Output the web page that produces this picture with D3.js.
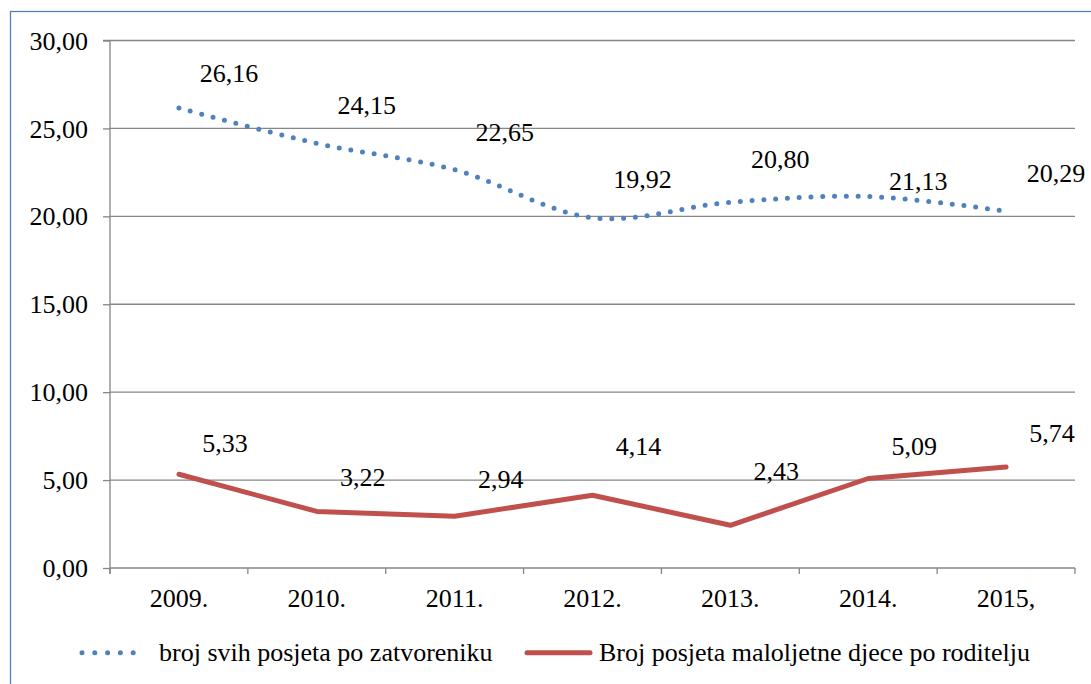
<!DOCTYPE html>
<html>
<head>
<meta charset="utf-8">
<script src="https://cdn.jsdelivr.net/npm/d3@7"></script>
<style>
  html, body { margin: 0; padding: 0; background: #fff; }
  svg { display: block; }
</style>
</head>
<body>
<svg id="chart" width="1091" height="684"></svg>
<script>
// ---- data ----
const years = ["2009.", "2010.", "2011.", "2012.", "2013.", "2014.", "2015,"];
const visitsPerPrisoner = [26.16, 24.15, 22.65, 19.92, 20.80, 21.13, 20.29];
const childVisitsPerParent = [5.33, 3.22, 2.94, 4.14, 2.43, 5.09, 5.74];
const yTicks = [0, 5, 10, 15, 20, 25, 30];
const seriesNames = ["broj svih posjeta po zatvoreniku", "Broj posjeta maloljetne djece po roditelju"];

// ---- layout (label nudges are layout only) ----
const labelNudgeBlue = [3, 0, 0, -1, -5, 23, 0];
const labelNudgeRed = [6, 3, 0, -12, -17, 4, 3];

const FONT = "'Liberation Serif'";
const svg = d3.select("#chart");
const plotLeft = 110, plotRight = 1075, plotTop = 40.5, plotBottom = 568;
const fontSize = 26;
const gridColor = "#868686";
const blue = "#4f81bd", red = "#c0504d";

// outer frame
svg.append("rect").attr("x", 10.5).attr("y", 11.5).attr("width", 1100).attr("height", 700)
  .attr("fill", "none").attr("stroke", "#4f81bd").attr("stroke-width", 1.3);

const x = d3.scaleBand().domain(years).range([plotLeft, plotRight]).paddingInner(0).paddingOuter(0);
const y = d3.scaleLinear().domain([0, 30]).range([plotBottom, plotTop]);
const cx = d => x(d) + x.bandwidth() / 2;

// gridlines
svg.append("g").selectAll("line").data(yTicks.filter(d => d > 0)).join("line")
  .attr("x1", plotLeft).attr("x2", plotRight)
  .attr("y1", d => y(d)).attr("y2", d => y(d))
  .attr("stroke", gridColor).attr("stroke-width", 1.3);

// y axis
const yAxis = d3.axisLeft(y).tickValues(yTicks).tickSize(7).tickPadding(15)
  .tickFormat(d => d3.format(".2f")(d).replace(".", ","));
const gy = svg.append("g").attr("transform", `translate(${plotLeft},0)`).call(yAxis);
gy.select(".domain").attr("stroke", gridColor).attr("stroke-width", 1.3)
  .attr("d", `M-7,${plotTop}H0V${plotBottom + 6}`);
gy.selectAll(".tick line").attr("stroke", gridColor).attr("stroke-width", 1.3);
gy.selectAll(".tick text").attr("font-size", fontSize).attr("fill", "#000")
  .style("font-family", FONT).attr("dy", "0.33em");

// x axis
const gx = svg.append("g").attr("transform", `translate(0,${plotBottom})`);
gx.append("line").attr("x1", plotLeft).attr("x2", plotRight).attr("y1", 0).attr("y2", 0)
  .attr("stroke", gridColor).attr("stroke-width", 1.3);
const bounds = years.map(d => x(d)).concat([plotRight]);
gx.selectAll("line.tk").data(bounds).join("line").attr("class", "tk")
  .attr("x1", d => d).attr("x2", d => d).attr("y1", 0).attr("y2", 6)
  .attr("stroke", gridColor).attr("stroke-width", 1.3);
gx.selectAll("text").data(years).join("text")
  .attr("x", d => cx(d)).attr("y", 38.5).attr("text-anchor", "middle")
  .style("font-family", FONT)
  .attr("font-size", fontSize).attr("fill", "#000").text(d => d);

// blue smooth dotted line
const lineBlue = d3.line().x((d, i) => cx(years[i])).y(d => y(d)).curve(d3.curveCardinal.tension(0));
svg.append("path").datum(visitsPerPrisoner).attr("d", lineBlue)
  .attr("fill", "none").attr("stroke", blue).attr("stroke-width", 5)
  .attr("stroke-linecap", "round").attr("stroke-dasharray", "0 11.8");

// red solid line
const lineRed = d3.line().x((d, i) => cx(years[i])).y(d => y(d));
svg.append("path").datum(childVisitsPerParent).attr("d", lineRed)
  .attr("fill", "none").attr("stroke", red).attr("stroke-width", 5)
  .attr("stroke-linecap", "round").attr("stroke-linejoin", "round");

// data labels
const fmt = v => d3.format(".2f")(v).replace(".", ",");
svg.append("g").selectAll("text").data(visitsPerPrisoner).join("text")
  .attr("x", (d, i) => cx(years[i]) + 50)
  .attr("y", (d, i) => y(d) - 29 + labelNudgeBlue[i])
  .attr("text-anchor", "middle").style("font-family", FONT).attr("font-size", fontSize).attr("fill", "#000")
  .text(fmt);
svg.append("g").selectAll("text").data(childVisitsPerParent).join("text")
  .attr("x", (d, i) => cx(years[i]) + 46)
  .attr("y", (d, i) => y(d) - 28 + labelNudgeRed[i])
  .attr("text-anchor", "middle").style("font-family", FONT).attr("font-size", fontSize).attr("fill", "#000")
  .text(fmt);

// legend
const ly = 652.7;
const leg = svg.append("g");
leg.append("line").attr("x1", 82).attr("x2", 146).attr("y1", ly).attr("y2", ly)
  .attr("stroke", blue).attr("stroke-width", 5).attr("stroke-linecap", "round")
  .attr("stroke-dasharray", "0 12.8");
leg.append("text").attr("x", 159).attr("y", 661).style("font-family", FONT).attr("font-size", fontSize).attr("fill", "#000")
  .text(seriesNames[0]);
leg.append("line").attr("x1", 527).attr("x2", 590).attr("y1", ly).attr("y2", ly)
  .attr("stroke", red).attr("stroke-width", 5).attr("stroke-linecap", "round");
leg.append("text").attr("x", 599).attr("y", 661).style("font-family", FONT).attr("font-size", fontSize).attr("fill", "#000")
  .text(seriesNames[1]);
</script>
</body>
</html>
